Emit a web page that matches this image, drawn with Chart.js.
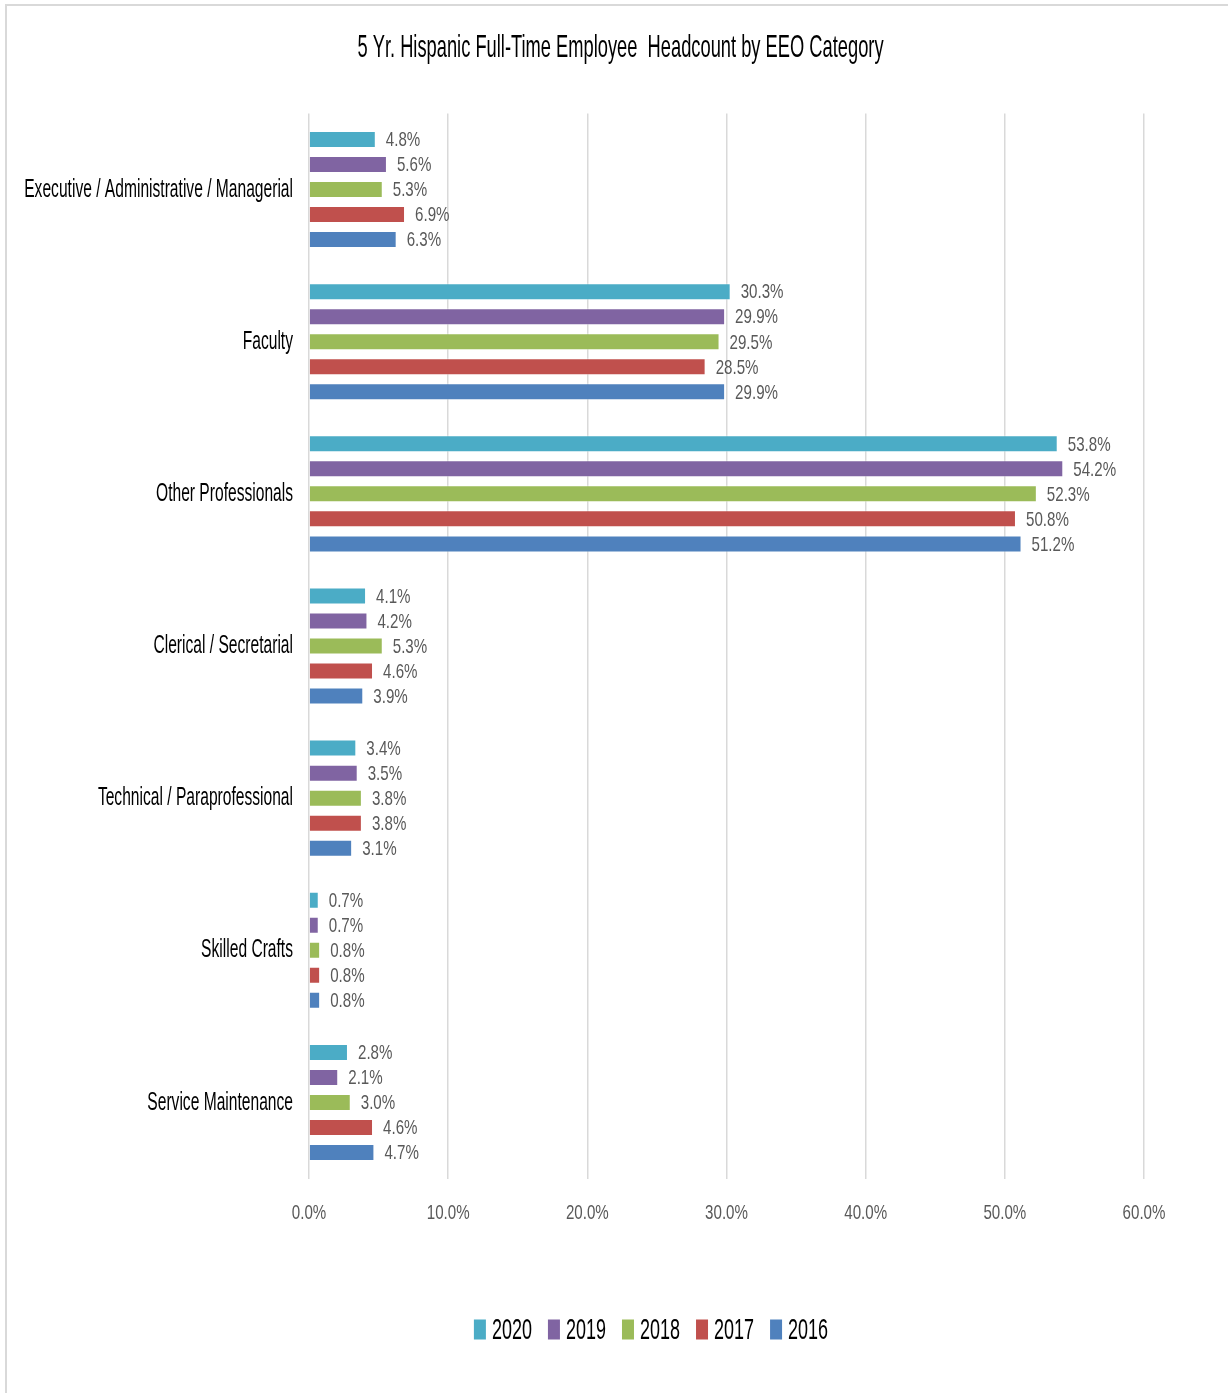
<!DOCTYPE html>
<html>
<head>
<meta charset="utf-8">
<script src="https://cdn.jsdelivr.net/npm/chart.js@4"></script>
<style>
  body { margin: 0; background: #fff; }
  #wrap { position: relative; width: 1228px; height: 1393px; overflow: hidden; }
  #frame { position: absolute; left: 5px; top: 4px; width: 1240px; height: 1400px;
           border-top: 2px solid #d9d9d9; border-left: 2px solid #d9d9d9; }
  canvas { position: absolute; left: 0; top: 0; }
</style>
</head>
<body>
<div id="wrap">
  <div id="frame"></div>
  <canvas id="grafico" width="1228" height="1393"></canvas>
</div>
<script>
// Datos del gráfico
const categorias = [
    "Executive / Administrative / Managerial",
    "Faculty",
    "Other Professionals",
    "Clerical / Secretarial",
    "Technical / Paraprofessional",
    "Skilled Crafts",
    "Service Maintenance"
];
const anios = ["2020", "2019", "2018", "2017", "2016"];
const valores2020 = [4.8, 30.3, 53.8, 4.1, 3.4, 0.7, 2.8];
const valores2019 = [5.6, 29.9, 54.2, 4.2, 3.5, 0.7, 2.1];
const valores2018 = [5.3, 29.5, 52.3, 5.3, 3.8, 0.8, 3.0];
const valores2017 = [6.9, 28.5, 50.8, 4.6, 3.8, 0.8, 4.6];
const valores2016 = [6.3, 29.9, 51.2, 3.9, 3.1, 0.8, 4.7];
const ticksX = [0, 10, 20, 30, 40, 50, 60];

const colores = ["#4BACC6", "#8064A2", "#9BBB59", "#C0504D", "#4F81BD"];
const fuente = "'Liberation Sans', Arial, sans-serif";
const centroLeyenda = 651;

// Texto estrecho: se comprime en horizontal (no hay fuentes "narrow" instaladas)
const lienzo = document.getElementById("grafico");
const c2d = lienzo.getContext("2d");
const protoFill = CanvasRenderingContext2D.prototype.fillText;
const protoMedir = CanvasRenderingContext2D.prototype.measureText;

function factorTexto(ctx) {
    const m = /(\d+(?:\.\d+)?)px/.exec(ctx.font);
    const tam = m ? parseFloat(m[1]) : 12;
    return tam <= 22 ? 0.72 : 0.6;
}

c2d.fillText = function (t, x, y) {
    const k = factorTexto(this);
    this.save();
    this.translate(x, y);
    this.scale(k, 1);
    protoFill.call(this, t, 0, 0);
    this.restore();
};

c2d.measureText = function (t) {
    const m = protoMedir.call(this, t);
    const k = factorTexto(this);
    return {
        width: m.width * k,
        actualBoundingBoxAscent: m.actualBoundingBoxAscent,
        actualBoundingBoxDescent: m.actualBoundingBoxDescent,
        actualBoundingBoxLeft: m.actualBoundingBoxLeft * k,
        actualBoundingBoxRight: m.actualBoundingBoxRight * k,
        fontBoundingBoxAscent: m.fontBoundingBoxAscent,
        fontBoundingBoxDescent: m.fontBoundingBoxDescent
    };
};

// Etiquetas de valor al final de cada barra
const etiquetasBarras = {
    id: "etiquetasBarras",
    afterDatasetsDraw(chart) {
        const ctx = chart.ctx;
        ctx.save();
        ctx.font = "21px " + fuente;
        ctx.fillStyle = "#595959";
        ctx.textBaseline = "middle";
        ctx.textAlign = "left";
        chart.data.datasets.forEach((ds, i) => {
            chart.getDatasetMeta(i).data.forEach((barra, j) => {
                ctx.fillText(ds.data[j].toFixed(1) + "%", barra.x + 10, barra.y + 1);
            });
        });
        ctx.restore();
    }
};

// Leyenda abajo (cuadros estrechos pegados al texto, como en Excel)
const leyendaPropia = {
    id: "leyendaPropia",
    afterDraw(chart) {
        const ctx = chart.ctx;
        ctx.save();
        ctx.font = "30px " + fuente;
        ctx.textBaseline = "middle";
        ctx.textAlign = "left";
        const items = chart.data.datasets.map(ds => ({
            texto: ds.label,
            color: ds.backgroundColor,
            ancho: ctx.measureText(ds.label).width
        }));
        const total = items.reduce((s, it) => s + 18 + it.ancho, 0) + 16 * (items.length - 1);
        let x = centroLeyenda - total / 2;
        const y = chart.chartArea.bottom + 151;
        items.forEach(it => {
            ctx.fillStyle = it.color;
            ctx.fillRect(x, y - 10, 12, 20);
            ctx.fillStyle = "#000000";
            ctx.fillText(it.texto, x + 18, y + 1);
            x += 18 + it.ancho + 16;
        });
        ctx.restore();
    }
};

const series = [valores2020, valores2019, valores2018, valores2017, valores2016];

new Chart(lienzo, {
    type: "bar",
    data: {
        labels: categorias,
        datasets: anios.map((a, i) => ({
            label: a,
            data: series[i],
            backgroundColor: colores[i],
            borderColor: "rgba(255,255,255,0.45)",
            borderWidth: 1,
            categoryPercentage: 0.822,
            barPercentage: 0.68
        }))
    },
    options: {
        indexAxis: "y",
        responsive: false,
        animation: false,
        devicePixelRatio: 1,
        layout: { padding: { left: 13, right: 0, top: 0, bottom: 0 } },
        scales: {
            x: {
                min: 0,
                max: 60,
                afterBuildTicks: (s) => { s.ticks = ticksX.map(v => ({ value: v })); },
                afterFit: (s) => { s.height = 214.5; },
                grid: { color: "#d9d9d9", lineWidth: 1.5, drawTicks: false },
                border: { display: false },
                ticks: {
                    padding: 22.5,
                    color: "#595959",
                    font: { family: fuente, size: 21 },
                    callback: (v) => Number(v).toFixed(1) + "%"
                }
            },
            y: {
                afterFit: (s) => { s.width = 296; },
                grid: { display: false, drawTicks: false },
                border: { display: false },
                ticks: {
                    padding: 16,
                    color: "#000000",
                    font: { family: fuente, size: 26 }
                }
            },
            // eje vacío a la derecha solo para reservar margen
            yDer: {
                type: "category",
                position: "right",
                afterFit: (s) => { s.width = 84; },
                grid: { display: false, drawTicks: false },
                border: { display: false },
                ticks: { display: false }
            }
        },
        plugins: {
            title: {
                display: true,
                text: "5 Yr. Hispanic Full-Time Employee  Headcount by EEO Category",
                color: "#000000",
                font: { family: fuente, size: 30.5, weight: "normal" },
                padding: { top: 30, bottom: 46.9 }
            },
            legend: { display: false },
            tooltip: { enabled: false }
        }
    },
    plugins: [etiquetasBarras, leyendaPropia]
});
</script>
</body>
</html>
